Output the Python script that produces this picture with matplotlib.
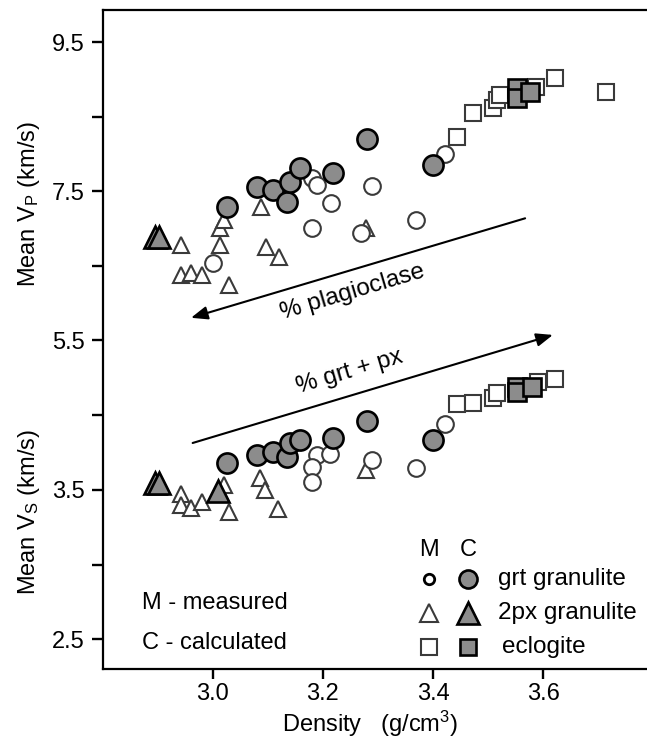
import numpy as np
import matplotlib.pyplot as plt

plt.rcParams['font.family'] = ['Liberation Sans', 'DejaVu Sans']
plt.rcParams['mathtext.default'] = 'regular'

# measured / calculated points, Vp (upper) and Vs (lower)
# grt granulite (circles)
rho_mc_p = [3.001, 3.181, 3.190, 3.214, 3.181, 3.290, 3.270, 3.370, 3.421]
vp_mc = [6.53, 7.67, 7.58, 7.34, 7.00, 7.57, 6.94, 7.11, 8.00]
rho_mc_s = [3.190, 3.212, 3.181, 3.180, 3.290, 3.370, 3.421]
vs_mc = [3.735, 3.742, 3.654, 3.554, 3.700, 3.648, 3.943]

rho_cc = [3.025, 3.081, 3.109, 3.134, 3.141, 3.158, 3.218, 3.280, 3.400]
vp_cc = [7.29, 7.55, 7.51, 7.35, 7.62, 7.81, 7.74, 8.20, 7.85]
vs_cc = [3.681, 3.735, 3.755, 3.721, 3.815, 3.836, 3.849, 3.963, 3.836]

# 2px granulite (triangles)
rho_mt_p = [2.942, 2.942, 2.961, 2.981, 3.012, 3.012, 3.021, 3.030, 3.087, 3.096, 3.121, 3.279]
vp_mt = [6.78, 6.37, 6.40, 6.37, 7.00, 6.78, 7.11, 6.24, 7.29, 6.75, 6.61, 7.00]
rho_mt_s = [2.942, 2.942, 2.961, 2.981, 3.012, 3.021, 3.030, 3.085, 3.094, 3.119, 3.279]
vs_mt = [3.473, 3.399, 3.379, 3.419, 3.487, 3.534, 3.352, 3.580, 3.500, 3.372, 3.634]

rho_ct_p = [2.894, 2.902]
vp_ct = [6.88, 6.88]
rho_ct_s = [2.894, 2.902, 3.010]
vs_ct = [3.547, 3.547, 3.490]

# eclogite (squares)
rho_ms_p = [3.443, 3.472, 3.509, 3.516, 3.521, 3.588, 3.621, 3.714]
vp_ms = [8.23, 8.55, 8.61, 8.72, 8.79, 8.90, 9.02, 8.83]
rho_ms_s = [3.443, 3.472, 3.509, 3.516, 3.590, 3.621]
vs_ms = [4.077, 4.084, 4.117, 4.151, 4.225, 4.245]

rho_cs_p = [3.552, 3.552, 3.576]
vp_cs = [8.88, 8.75, 8.83]
rho_cs_s = [3.552, 3.552, 3.580]
vs_cs = [4.191, 4.158, 4.191]

gray = '#8c8c8c'
medge = '#3a3a3a'

fig = plt.figure(figsize=(6.47, 7.42), dpi=100)
pos = [0.159, 0.0984, 0.841, 0.888]
ax = fig.add_axes(pos)
ax2 = fig.add_axes(pos, sharex=ax)
ax2.patch.set_visible(False)
for s in ax2.spines.values():
    s.set_visible(False)
ax2.xaxis.set_visible(False)

ax.set_xlim(2.8, 3.789)
ax.set_ylim(1.084, 9.93)
ax2.set_ylim(2.299, 6.72)


def meas(a, x, y, m, ms):
    a.plot(x, y, m, ls='none', ms=ms, mfc='white', mec=medge, mew=1.5, zorder=3)


def calc(a, x, y, m, ms):
    a.plot(x, y, m, ls='none', ms=ms, mfc=gray, mec='black', mew=1.9, zorder=4)


# Vp
meas(ax, rho_mt_p, vp_mt, '^', 12)
meas(ax, rho_mc_p, vp_mc, 'o', 12)
meas(ax, rho_ms_p, vp_ms, 's', 12)
calc(ax, rho_ct_p, vp_ct, '^', 15.5)
calc(ax, rho_cc, vp_cc, 'o', 14.5)
calc(ax, rho_cs_p, vp_cs, 's', 13)
# Vs
meas(ax2, rho_mt_s, vs_mt, '^', 12)
meas(ax2, rho_mc_s, vs_mc, 'o', 12)
meas(ax2, rho_ms_s, vs_ms, 's', 12)
calc(ax2, rho_ct_s, vs_ct, '^', 15.5)
calc(ax2, rho_cc, vs_cc, 'o', 14.5)
calc(ax2, rho_cs_s, vs_cs, 's', 13)

# axes styling
ax.spines['right'].set_visible(False)
for s in ['left', 'bottom', 'top']:
    ax.spines[s].set_linewidth(1.6)

ax.set_xticks([3.0, 3.2, 3.4, 3.6])
ax.set_xticklabels(['3.0', '3.2', '3.4', '3.6'])
ax.set_yticks([5.5, 6.5, 7.5, 8.5, 9.5])
ax.set_yticklabels(['5.5', '', '7.5', '', '9.5'])
ax2.set_yticks([2.5, 3.0, 3.5, 4.0])
ax2.set_yticklabels(['2.5', '', '3.5', ''])
ax.tick_params(axis='x', direction='out', length=7, width=1.7, labelsize=17, pad=3)
ax.tick_params(axis='y', direction='out', length=8, width=1.7, labelsize=17, pad=5)
ax2.tick_params(axis='y', direction='out', length=8, width=1.7, labelsize=17, pad=5,
                left=True, labelleft=True, right=False, labelright=False)

ax.set_xlabel('Density   (g/cm$^3$)', fontsize=17)
ax.xaxis.set_label_coords(0.491, -0.06)
ax.set_ylabel('Mean V$_\\mathregular{P}$ (km/s)', fontsize=17)
ax.yaxis.set_label_coords(-0.112, 0.706)
ax2.set_ylabel('Mean V$_\\mathregular{S}$ (km/s)', fontsize=17)
ax2.yaxis.set_label_coords(-0.112, 0.238)

# trend arrows
arw = dict(arrowstyle='-|>,head_length=1.0,head_width=0.4', lw=1.5, color='black',
           shrinkA=0, shrinkB=0)
ax.annotate('', xy=(0.162, 0.533), xytext=(0.776, 0.684), xycoords='axes fraction',
            arrowprops=arw)
ax.annotate('', xy=(0.827, 0.507), xytext=(0.165, 0.343), xycoords='axes fraction',
            arrowprops=arw)
ax.text(0.458, 0.572, '% plagioclase', transform=ax.transAxes, fontsize=17.5,
        rotation=16.5, rotation_mode='anchor', ha='center', va='center')
ax.text(0.454, 0.451, '% grt + px', transform=ax.transAxes, fontsize=17.5,
        rotation=16.5, rotation_mode='anchor', ha='center', va='center')

# notes
ax.text(0.072, 0.100, 'M - measured', transform=ax.transAxes, fontsize=17, va='center')
ax.text(0.072, 0.039, 'C - calculated', transform=ax.transAxes, fontsize=17, va='center')

# legend key
tr = ax.transAxes
xm, xc, xt = 0.599, 0.671, 0.726
rows = [0.137, 0.085, 0.033]
ax.text(xm, 0.181, 'M', transform=tr, fontsize=17, ha='center', va='center')
ax.text(xc, 0.181, 'C', transform=tr, fontsize=17, ha='center', va='center')
ax.plot([xm], [rows[0]], 'o', transform=tr, ms=7.5, mfc='white', mec='black', mew=2.0,
        clip_on=False)
ax.plot([xc], [rows[0]], 'o', transform=tr, ms=13, mfc=gray, mec='black', mew=1.9,
        clip_on=False)
ax.plot([xm], [rows[1]], '^', transform=tr, ms=12.5, mfc='white', mec=medge, mew=1.5,
        clip_on=False)
ax.plot([xc], [rows[1]], '^', transform=tr, ms=15.5, mfc=gray, mec='black', mew=1.9,
        clip_on=False)
ax.plot([xm], [rows[2]], 's', transform=tr, ms=12, mfc='white', mec=medge, mew=1.5,
        clip_on=False)
ax.plot([xc], [rows[2]], 's', transform=tr, ms=12, mfc=gray, mec='black', mew=1.9,
        clip_on=False)
ax.text(xt, rows[0], 'grt granulite', transform=tr, fontsize=17.5, va='center')
ax.text(xt, rows[1], '2px granulite', transform=tr, fontsize=17.5, va='center')
ax.text(xt + 0.007, rows[2], 'eclogite', transform=tr, fontsize=17.5, va='center')

fig.savefig('out.png', dpi=100)
